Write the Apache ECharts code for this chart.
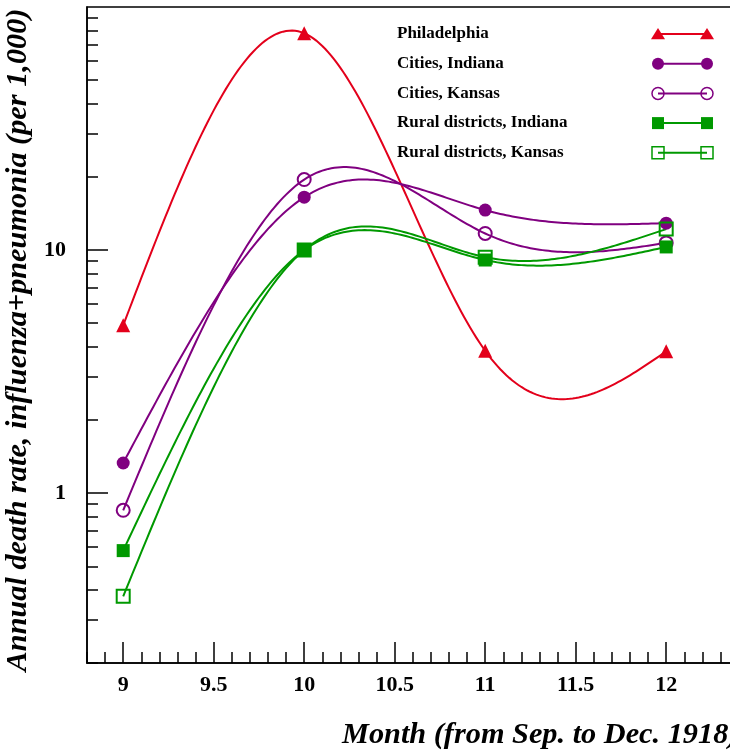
<!DOCTYPE html>
<html>
<head>
<meta charset="utf-8">
<script src="https://cdn.jsdelivr.net/npm/echarts@6/dist/echarts.min.js"></script>
<style>
html,body{margin:0;padding:0;background:#fff;}
#chart{width:730px;height:750px;}
</style>
</head>
<body>
<div id="chart"></div>
<script>
// ---- data ----
var months = [9, 10, 11, 12];
var seriesNames = ['Philadelphia', 'Cities, Indiana', 'Cities, Kansas', 'Rural districts, Indiana', 'Rural districts, Kansas'];
var philadelphia = [4.9, 78, 3.85, 3.83];
var citiesIndiana = [1.33, 16.5, 14.6, 12.9];
var citiesKansas = [0.85, 19.5, 11.7, 10.7];
var ruralIndiana = [0.58, 10.0, 9.1, 10.3];
var ruralKansas = [0.376, 10.0, 9.35, 12.2];
var xTickLabels = [9, 9.5, 10, 10.5, 11, 11.5, 12];
var yTickLabels = [1, 10];

// ---- styles ----
var RED = '#e3001b', PURPLE = '#800080', GREEN = '#009900';
var styles = [
  {color: RED, symbol: 'triangle', size: 14, filled: true},
  {color: PURPLE, symbol: 'circle', size: 13, filled: true},
  {color: PURPLE, symbol: 'circle', size: 13, filled: false},
  {color: GREEN, symbol: 'rect', size: 13, filled: true},
  {color: GREEN, symbol: 'rect', size: 13, filled: false}
];
var values = [philadelphia, citiesIndiana, citiesKansas, ruralIndiana, ruralKansas];

var FONT = '"Liberation Serif", "Times New Roman", serif';
var xMin = 8.8, xMax = 12.4, yMin = 0.2, yMax = 100;

// minor tick positions
var xMinor = [];
for (var i = 88; i <= 124; i++) { if (i % 5 !== 0) xMinor.push(i / 10); }
var yMinor = [];
[0.1, 1, 10].forEach(function (d) {
  for (var k = 2; k <= 9; k++) { var v = +(k * d).toFixed(3); if (v >= yMin && v < yMax) yMinor.push(v); }
});

// natural cubic spline through pixel points (curve rendering only)
function splinePath(pts) {
  var n = pts.length, h = [], M = new Array(n).fill(0);
  for (var i = 0; i < n - 1; i++) h.push(pts[i + 1][0] - pts[i][0]);
  if (n > 2) {
    var a = [], b = [], c = [], d = [];
    for (var i = 1; i < n - 1; i++) {
      a.push(h[i - 1]); b.push(2 * (h[i - 1] + h[i])); c.push(h[i]);
      d.push(6 * ((pts[i + 1][1] - pts[i][1]) / h[i] - (pts[i][1] - pts[i - 1][1]) / h[i - 1]));
    }
    var m = b.length;
    for (var i = 1; i < m; i++) {
      var w = a[i] / b[i - 1];
      b[i] -= w * c[i - 1]; d[i] -= w * d[i - 1];
    }
    var sol = new Array(m);
    sol[m - 1] = d[m - 1] / b[m - 1];
    for (var i = m - 2; i >= 0; i--) sol[i] = (d[i] - c[i] * sol[i + 1]) / b[i];
    for (var i = 0; i < m; i++) M[i + 1] = sol[i];
  }
  var out = [];
  for (var i = 0; i < n - 1; i++) {
    var steps = 60;
    for (var s = 0; s <= steps; s++) {
      if (i > 0 && s === 0) continue;
      var t = s / steps, x = pts[i][0] + t * h[i];
      var A = 1 - t, B = t;
      var y = A * pts[i][1] + B * pts[i + 1][1] + ((A * A * A - A) * M[i] + (B * B * B - B) * M[i + 1]) * h[i] * h[i] / 6;
      out.push([x, y]);
    }
  }
  return out;
}

var series = [];
values.forEach(function (vals, i) {
  var s = styles[i];
  var data = months.map(function (m, j) { return [m, vals[j]]; });
  series.push({
    name: seriesNames[i] + ' curve',
    type: 'custom',
    xAxisIndex: 0, yAxisIndex: 0,
    data: data,
    encode: {x: 0, y: 1},
    silent: true,
    z: 2,
    renderItem: function (params, api) {
      if (params.dataIndex !== 0) return null;
      var pts = data.map(function (d) { return api.coord(d); });
      return {type: 'polyline', shape: {points: splinePath(pts)}, style: {stroke: s.color, lineWidth: 2, fill: null}};
    }
  });
});
values.forEach(function (vals, i) {
  var s = styles[i];
  series.push({
    name: seriesNames[i],
    type: 'scatter',
    xAxisIndex: 0, yAxisIndex: 0,
    data: months.map(function (m, j) { return [m, vals[j]]; }),
    symbol: s.symbol,
    symbolSize: s.size,
    itemStyle: s.filled ? {color: s.color, opacity: 1} : {color: 'rgba(255,255,255,0)', borderColor: s.color, borderWidth: 2, opacity: 1},
    emphasis: {disabled: true},
    z: 3 + i
  });
});

// legend built with graphic elements
var graphics = [];
seriesNames.forEach(function (name, i) {
  var s = styles[i];
  var y = 34 + i * 29.7;
  graphics.push({type: 'text', x: 397, y: y, style: {text: name, font: 'bold 17px ' + FONT, fill: '#000', verticalAlign: 'middle'}});
  graphics.push({type: 'line', shape: {x1: 658, y1: y, x2: 707, y2: y}, style: {stroke: s.color, lineWidth: 2}});
  [658, 707].forEach(function (cx) {
    var st = s.filled ? {fill: s.color} : {fill: 'none', stroke: s.color, lineWidth: 1.5};
    var h = s.size / 2;
    if (s.symbol === 'circle') {
      graphics.push({type: 'circle', shape: {cx: cx, cy: y, r: h - 0.5}, style: st});
    } else if (s.symbol === 'rect') {
      graphics.push({type: 'rect', shape: {x: cx - h + 0.5, y: y - h + 0.5, width: s.size - 1, height: s.size - 1}, style: st});
    } else {
      graphics.push({type: 'polygon', shape: {points: [[cx, y - h + 1], [cx + h, y + h * 0.75], [cx - h, y + h * 0.75]]}, style: st});
    }
  });
});
graphics.push({type: 'text', x: 342, y: 735, style: {text: 'Month (from Sep. to Dec. 1918)', font: 'italic bold 30.3px ' + FONT, fill: '#000', verticalAlign: 'middle'}});

var option = {
  animation: false,
  backgroundColor: '#fff',
  grid: {left: 87, top: 7, right: -8.6, bottom: 87, show: true, borderColor: '#000', borderWidth: 1.5, backgroundColor: 'transparent', outerBoundsMode: 'none', containLabel: false},
  xAxis: [{
    type: 'value', min: xMin, max: xMax,
    axisLine: {show: true, onZero: false, lineStyle: {color: '#000', width: 1.5}},
    axisTick: {show: true, inside: true, length: 21, customValues: xTickLabels, lineStyle: {color: '#000', width: 1.5}},
    axisLabel: {show: true, customValues: xTickLabels, margin: 11, color: '#000', fontFamily: FONT, fontWeight: 'bold', fontSize: 22},
    splitLine: {show: false}
  }, {
    type: 'value', min: xMin, max: xMax, position: 'bottom',
    axisLine: {show: false},
    axisTick: {show: true, inside: true, length: 11, customValues: xMinor, lineStyle: {color: '#000', width: 1.5}},
    axisLabel: {show: false},
    splitLine: {show: false}
  }],
  yAxis: [{
    type: 'log', logBase: 10, min: yMin, max: yMax,
    name: 'Annual death rate, influenza+pneumonia (per 1,000)',
    nameLocation: 'middle', nameGap: 43,
    nameTextStyle: {fontFamily: FONT, fontStyle: 'italic', fontWeight: 'bold', fontSize: 30.3, color: '#000', padding: [0, 10, 0, 0]},
    axisLine: {show: true, lineStyle: {color: '#000', width: 1.5}},
    axisTick: {show: true, inside: true, length: 21, customValues: yTickLabels, lineStyle: {color: '#000', width: 1.5}},
    axisLabel: {show: true, customValues: yTickLabels, margin: 21, color: '#000', fontFamily: FONT, fontWeight: 'bold', fontSize: 22},
    splitLine: {show: false}
  }, {
    type: 'log', logBase: 10, min: yMin, max: yMax, position: 'left',
    axisLine: {show: false},
    axisTick: {show: true, inside: true, length: 11, customValues: yMinor, lineStyle: {color: '#000', width: 1.5}},
    axisLabel: {show: false},
    splitLine: {show: false}
  }],
  series: series,
  graphic: graphics
};

var chart = echarts.init(document.getElementById('chart'), null, {renderer: 'canvas'});
chart.setOption(option);
</script>
</body>
</html>
